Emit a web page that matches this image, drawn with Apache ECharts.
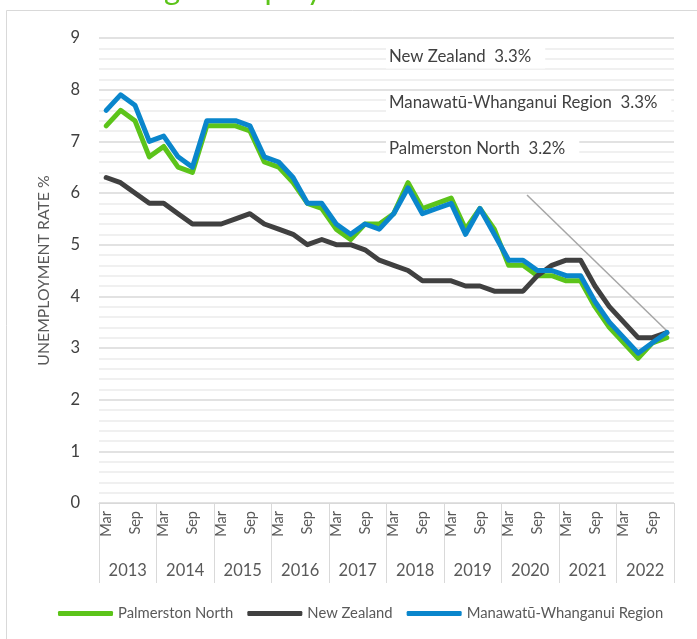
<!DOCTYPE html>
<html>
<head>
<meta charset="utf-8">
<script src="https://cdn.jsdelivr.net/npm/echarts@6/dist/echarts.min.js"></script>
<style>
html,body{margin:0;padding:0;background:#fff;}
#chart{width:697px;height:639px;}
</style>
</head>
<body>
<div id="chart"></div>
<script>
const years = ['2013','2014','2015','2016','2017','2018','2019','2020','2021','2022'];
const quarters = ['Mar','Jun','Sep','Dec'];
const shownQuarters = ['Mar','Sep'];
const yTicks = [0,1,2,3,4,5,6,7,8,9];

const palmerstonNorth = [7.3,7.6,7.4,6.7,6.9,6.5,6.4,7.3,7.3,7.3,7.2,6.6,6.5,6.2,5.8,5.7,5.3,5.1,5.4,5.4,5.6,6.2,5.7,5.8,5.9,5.3,5.7,5.3,4.6,4.6,4.4,4.4,4.3,4.3,3.8,3.4,3.1,2.8,3.1,3.2];
const newZealand = [6.3,6.2,6.0,5.8,5.8,5.6,5.4,5.4,5.4,5.5,5.6,5.4,5.3,5.2,5.0,5.1,5.0,5.0,4.9,4.7,4.6,4.5,4.3,4.3,4.3,4.2,4.2,4.1,4.1,4.1,4.4,4.6,4.7,4.7,4.2,3.8,3.5,3.2,3.2,3.3];
const manawatuWhanganui = [7.6,7.9,7.7,7.0,7.1,6.7,6.5,7.4,7.4,7.4,7.3,6.7,6.6,6.3,5.8,5.8,5.4,5.2,5.4,5.3,5.6,6.1,5.6,5.7,5.8,5.2,5.7,5.2,4.7,4.7,4.5,4.5,4.4,4.4,3.9,3.5,3.2,2.9,3.1,3.3];

const seriesNames = ['Palmerston North','New Zealand','Manawatū-Whanganui Region'];
const latestNotes = ['New Zealand  3.3%','Manawatū-Whanganui Region  3.3%','Palmerston North  3.2%'];
const titleText = 'Falling unemployment';

const categories = [];
years.forEach(y => quarters.forEach(q => categories.push(q + ' ' + y)));

const FONT = 'Lato, "Open Sans", sans-serif';

// fit the (mostly cropped) title so its descenders sit where the reference shows them
const mctx = document.createElement('canvas').getContext('2d');
mctx.font = '31px ' + FONT;
const gSpan = mctx.measureText('g unemplo').width;
const titleSize = 31 * 143 / gSpan;
mctx.font = titleSize + 'px ' + FONT;
const titleX = 164 - mctx.measureText('Fallin').width;

const chart = echarts.init(document.getElementById('chart'), null, {renderer:'canvas'});
const colors = ['#5cc41a','#404040','#0a86cc'];

function note(i, y){
  return {type:'text', x:386, y:y, z:100,
    style:{text:latestNotes[i], font:'16.8px ' + FONT, fill:'#404040', verticalAlign:'middle',
      backgroundColor:'#fff', padding:[3,14,3,3]}, silent:true};
}

chart.setOption({
  animation:false,
  backgroundColor:'#fff',
  grid:{left:99, right:23, top:38, bottom:136, containLabel:false},
  legend:{
    data:seriesNames,
    left:53, top:601,
    icon:'roundRect', itemWidth:55, itemHeight:5, itemGap:14,
    textStyle:{fontFamily:FONT, fontSize:14.8, color:'#595959'}
  },
  xAxis:[{
    type:'category', data:categories, boundaryGap:true,
    axisLine:{show:true, lineStyle:{color:'#d9d9d9', width:1}},
    axisTick:{show:false},
    axisLabel:{
      interval:0, rotate:90, margin:8, fontFamily:FONT, fontSize:14.5, color:'#595959',
      formatter:function(v){ const q=v.split(' ')[0]; return shownQuarters.indexOf(q)>=0 ? q : ''; }
    },
    splitLine:{show:false}
  },{
    type:'category', data:years, position:'bottom', boundaryGap:true,
    axisLine:{show:false},
    axisTick:{show:true, length:80, inside:false, lineStyle:{color:'#d9d9d9', width:1}},
    axisLabel:{margin:59, fontFamily:FONT, fontSize:16.5, color:'#595959'},
    splitLine:{show:false}
  }],
  yAxis:{
    type:'value', min:yTicks[0], max:yTicks[yTicks.length-1], interval:1,
    name:'UNEMPLOYMENT RATE %', nameLocation:'middle', nameGap:47, nameRotate:90,
    nameTextStyle:{fontFamily:FONT, fontSize:15.8, color:'#595959'},
    axisLine:{show:false}, axisTick:{show:false},
    axisLabel:{margin:19, fontFamily:FONT, fontSize:16.5, color:'#404040'},
    splitLine:{show:true, lineStyle:{color:'#d9d9d9', width:1.5}},
    minorTick:{show:false, splitNumber:5},
    minorSplitLine:{show:true, lineStyle:{color:'#ececec', width:1.5}}
  },
  series:[
    {name:seriesNames[0], type:'line', data:palmerstonNorth, showSymbol:false, symbol:'none',
     lineStyle:{color:colors[0], width:5, join:'round', cap:'round'}, itemStyle:{color:colors[0]}, z:2},
    {name:seriesNames[1], type:'line', data:newZealand, showSymbol:false, symbol:'none',
     lineStyle:{color:colors[1], width:5, join:'round', cap:'round'}, itemStyle:{color:colors[1]}, z:3},
    {name:seriesNames[2], type:'line', data:manawatuWhanganui, showSymbol:false, symbol:'none',
     lineStyle:{color:colors[2], width:5, join:'round', cap:'round'}, itemStyle:{color:colors[2]}, z:4}
  ],
  graphic:[
    {type:'rect', shape:{x:6.5, y:10.5, width:800, height:800}, style:{fill:null, stroke:'#d9d9d9', lineWidth:1}, silent:true, z:-10},
    {type:'text', x:titleX, y:5, z:50, style:{text:titleText, font:titleSize + 'px ' + FONT, fill:'#5cc41a', verticalAlign:'bottom'}, silent:true},
    {type:'line', shape:{x1:527, y1:195, x2:667, y2:331}, style:{stroke:'#a6a6a6', lineWidth:1.5}, silent:true, z:1},
    note(0, 57), note(1, 103), note(2, 149)
  ]
});
</script>
</body>
</html>
